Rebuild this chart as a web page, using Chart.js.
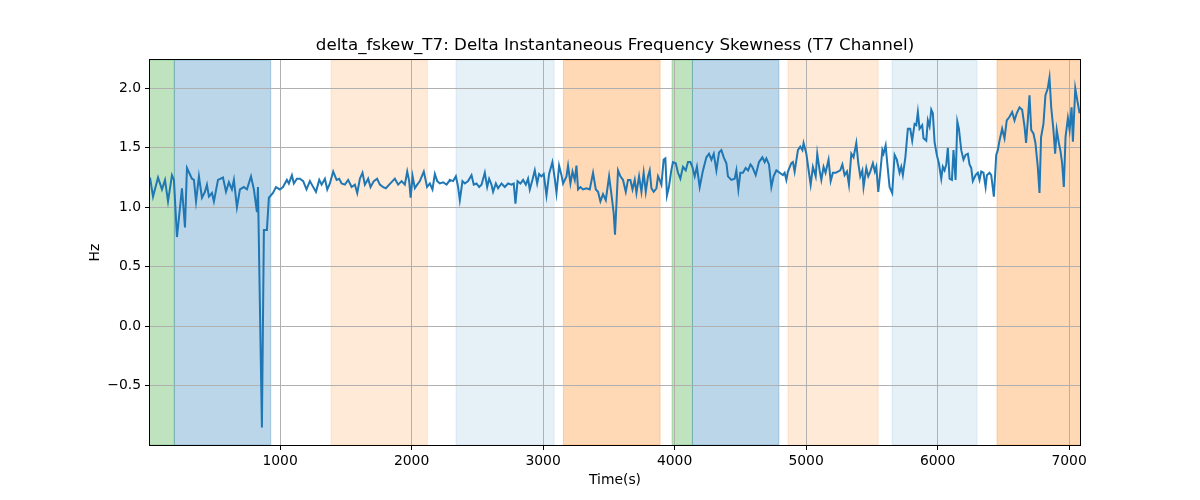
<!DOCTYPE html>
<html>
<head>
<meta charset="utf-8">
<script src="https://cdn.jsdelivr.net/npm/chart.js@4.4.1/dist/chart.umd.min.js"></script>
<style>
  html, body { margin: 0; padding: 0; background: #fff; }
</style>
</head>
<body>
<canvas id="myChart" width="1200" height="500"></canvas>
<script>
// time (s) of each sample
var times = [
  11,34,72,102,125,148,178,193,216,254,277,292,330,345,361,383,406,429,444,459,
  482,497,528,566,589,611,634,649,672,695,725,748,779,801,824,832,862,877,900,915,
  946,969,999,1022,1052,1067,1090,1105,1128,1151,
  1176,1201,1227,1247,1273,1298,1316,1341,1359,1379,1404,1430,1450,1468,1493,1518,1544,1569,1587,1607,
  1627,1645,1670,1688,1713,1738,1759,1784,1805,1830,1855,1873,1898,1924,1949,1967,1982,1993,2008,2025,
  2043,2063,2093,2118,2139,2159,2177,2195,2215,2240,2266,2286,
  2291,2316,2337,2354,2367,2387,2405,2430,2456,2473,2494,2514,2532,2557,2575,2590,2608,2620,2641,2658,
  2684,2709,2734,2760,2777,2790,2806,2828,2848,2869,2886,2899,2919,2937,2955,2970,2988,3005,3026,3046,
  3071,3089,3102,3122,3140,3152,3178,3190,3208,3224,3241,3254,3266,3284,3304,3330,3355,3380,3401,3418,
  3436,3456,3477,3502,
  3522,3537,3547,3570,3588,3608,3629,3646,3664,3680,3697,3710,3730,3748,3765,3781,3798,3811,3824,3841,
  3862,3874,3887,3900,3917,3930,3942,3957,3975,3988,4009,4026,4044,4064,4085,4102,4120,4135,4153,4170,
  4191,4216,4242,4262,4280,4298,4318,4338,4356,4374,4394,4406,4432,4457,4470,4485,4500,4520,4541,4559,
  4577,
  4591,4617,4642,4668,4685,4698,4718,4736,4753,4774,4799,4824,4837,4850,4862,4888,4900,4913,4938,4956,
  4972,4981,5002,5017,5035,5052,5073,5085,5103,5116,5133,5148,5171,5187,5204,5225,5242,5260,5276,5293,
  5311,5326,5344,5361,5382,5397,5412,5428,5437,5458,5473,5488,5508,5523,5534,5549,5564,5580,5589,5605,
  5620,5635,5655,5673,5690,5711,5724,5736,5755,
  5774,5792,5807,5825,5838,5850,5863,5883,5893,5914,5926,5939,5952,5964,5977,5994,6010,6028,6040,6053,
  6066,6078,6091,6109,6121,6137,6150,6162,6180,6197,6213,6230,6243,6256,6268,6289,6306,6319,6332,6349,
  6365,6375,6395,6408,6428,6446,6458,6471,6491,6509,6526,6547,6567,6585,6602,6623,6643,6661,6673,6686,
  6699,6712,6729,6744,6762,6775,6787,6805,6820,6838,6851,6864,6881,6894,6906,6922,6935,6947,6960,6973,
  6991,7004,7019,7029,7047,7062,7080
];
// delta frequency skewness (Hz)
var skewValues = [
  1.25,1.09,1.25,1.15,1.23,1.05,1.27,1.23,0.75,1.16,0.83,1.33,1.24,1.23,1.05,1.26,1.08,1.13,1.19,1.09,
  1.12,1.05,1.23,1.25,1.13,1.21,1.15,1.23,1.00,1.15,1.17,1.15,1.26,1.15,0.96,1.17,-0.85,0.81,0.81,1.08,
  1.12,1.17,1.15,1.17,1.23,1.20,1.27,1.20,1.24,1.24,
  1.22,1.15,1.22,1.18,1.13,1.23,1.19,1.24,1.15,1.20,1.30,1.23,1.24,1.20,1.19,1.23,1.17,1.19,1.12,1.24,
  1.29,1.19,1.24,1.17,1.22,1.24,1.19,1.17,1.16,1.19,1.22,1.24,1.19,1.22,1.19,1.30,1.22,1.08,1.26,1.16,
  1.19,1.22,1.30,1.17,1.20,1.15,1.28,1.22,1.20,1.21,1.19,1.22,
  1.23,1.22,1.26,1.17,1.06,1.22,1.20,1.22,1.27,1.19,1.20,1.17,1.19,1.29,1.17,1.24,1.19,1.13,1.20,1.16,
  1.20,1.17,1.20,1.19,1.20,1.03,1.22,1.20,1.23,1.19,1.24,1.15,1.23,1.31,1.20,1.28,1.26,1.28,1.10,1.28,
  1.38,1.24,1.12,1.35,1.27,1.20,1.26,1.35,1.20,1.30,1.23,1.35,1.15,1.17,1.15,1.16,1.15,1.29,1.15,1.13,
  1.05,1.11,1.06,1.26,
  1.09,0.95,0.77,1.31,1.26,1.23,1.13,1.23,1.23,1.15,1.23,1.12,1.26,1.13,1.29,1.13,1.26,1.31,1.16,1.13,
  1.16,1.26,1.23,1.19,1.40,1.41,1.10,1.17,1.31,1.38,1.37,1.29,1.24,1.34,1.31,1.38,1.38,1.34,1.26,1.34,
  1.17,1.31,1.42,1.45,1.40,1.45,1.31,1.46,1.48,1.42,1.37,1.26,1.23,1.24,1.31,1.15,1.29,1.29,1.33,1.31,
  1.36,
  1.34,1.27,1.38,1.42,1.38,1.41,1.36,1.17,1.26,1.31,1.29,1.27,1.29,1.23,1.30,1.37,1.38,1.30,1.48,1.51,
  1.48,1.54,1.45,1.33,1.19,1.34,1.26,1.45,1.31,1.23,1.34,1.29,1.40,1.22,1.29,1.29,1.30,1.31,1.36,1.27,
  1.30,1.19,1.45,1.42,1.54,1.37,1.26,1.31,1.17,1.33,1.26,1.30,1.37,1.30,1.34,1.13,1.29,1.48,1.45,1.52,
  1.34,1.17,1.12,1.44,1.40,1.29,1.34,1.27,1.42,
  1.66,1.66,1.56,1.70,1.69,1.80,1.66,1.69,1.58,1.56,1.73,1.68,1.82,1.79,1.55,1.44,1.37,1.24,1.34,1.31,
  1.36,1.50,1.24,1.23,1.48,1.23,1.72,1.66,1.48,1.40,1.44,1.45,1.36,1.33,1.22,1.27,1.29,1.23,1.30,1.29,
  1.17,1.27,1.29,1.27,1.09,1.44,1.48,1.56,1.66,1.58,1.73,1.76,1.80,1.73,1.79,1.84,1.82,1.68,1.54,1.73,
  1.94,1.65,1.62,1.54,1.34,1.12,1.59,1.70,1.94,2.00,2.09,1.84,1.65,1.45,1.65,1.54,1.47,1.37,1.17,1.59,
  1.75,1.65,1.84,1.55,2.00,1.90,1.79
];

// shaded stage bands
var spanStart = [0, 196, 1388, 2338, 3155, 3981, 4136, 4863, 5654, 6452];
var spanEnd   = [196, 929, 2120, 3084, 3890, 4136, 4793, 5548, 6300, 7100];
var spanColor = [
  "rgba(44,160,44,0.3)", "rgba(31,119,180,0.3)", "rgba(255,127,14,0.16)", "rgba(31,119,180,0.11)",
  "rgba(255,127,14,0.3)", "rgba(44,160,44,0.3)", "rgba(31,119,180,0.3)", "rgba(255,127,14,0.16)",
  "rgba(31,119,180,0.11)", "rgba(255,127,14,0.3)"
];

var xTicks = [1000, 2000, 3000, 4000, 5000, 6000, 7000];
var yTicks = [-0.5, 0, 0.5, 1.0, 1.5, 2.0];

var points = times.map(function (t, i) { return { x: t, y: skewValues[i] }; });

var spansPlugin = {
  id: "spans",
  beforeDraw: function (chart) {
    var ctx = chart.ctx, area = chart.chartArea, xs = chart.scales.x;
    ctx.save();
    ctx.beginPath();
    ctx.rect(area.left, area.top, area.right - area.left, area.bottom - area.top);
    ctx.clip();
    for (var i = 0; i < spanStart.length; i++) {
      var x0 = xs.getPixelForValue(spanStart[i]);
      var x1 = xs.getPixelForValue(spanEnd[i]);
      ctx.fillStyle = spanColor[i];
      ctx.fillRect(x0, area.top, x1 - x0, area.bottom - area.top);
      ctx.strokeStyle = spanColor[i];
      ctx.lineWidth = 1;
      ctx.strokeRect(x0, area.top, x1 - x0, area.bottom - area.top);
    }
    ctx.restore();
  },
  afterDraw: function (chart) {
    var ctx = chart.ctx, area = chart.chartArea;
    ctx.save();
    ctx.strokeStyle = "#000";
    ctx.lineWidth = 1;
    ctx.strokeRect(Math.round(area.left) - 0.5, Math.round(area.top) - 0.5,
      Math.round(area.right - area.left) + 1, Math.round(area.bottom - area.top) + 1);
    ctx.restore();
  }
};

var tickFont = { family: "DejaVu Sans", size: 13.9 };

new Chart("myChart", {
  type: "line",
  data: {
    datasets: [{
      data: points,
      borderColor: "#1f77b4",
      borderWidth: 2,
      pointRadius: 0,
      tension: 0,
      fill: false
    }]
  },
  options: {
    responsive: false,
    animation: false,
    devicePixelRatio: 1,
    layout: { padding: { left: 0, right: 120, top: 0, bottom: 0 } },
    plugins: {
      legend: { display: false },
      tooltip: { enabled: false },
      title: {
        display: true,
        fullSize: false,
        text: "delta_fskew_T7: Delta Instantaneous Frequency Skewness (T7 Channel)",
        color: "#000",
        font: { family: "DejaVu Sans", size: 16.7, weight: "normal" },
        padding: { top: 36, bottom: 4 }
      }
    },
    scales: {
      x: {
        type: "linear",
        min: 11,
        max: 7083,
        afterBuildTicks: function (scale) {
          scale.ticks = xTicks.map(function (v) { return { value: v }; });
        },
        afterFit: function (scale) { scale.height = 55; },
        ticks: {
          color: "#000",
          font: tickFont,
          padding: 3,
          maxRotation: 0,
          autoSkip: false,
          callback: function (v) { return String(v); }
        },
        grid: { color: "#b0b0b0", lineWidth: 1, tickColor: "#000", tickLength: 5 },
        border: { display: false },
        title: {
          display: true,
          text: "Time(s)",
          color: "#000",
          font: { family: "DejaVu Sans", size: 13.9 },
          padding: { top: 0, bottom: 11 }
        }
      },
      y: {
        type: "linear",
        min: -0.997,
        max: 2.237,
        afterBuildTicks: function (scale) {
          scale.ticks = yTicks.map(function (v) { return { value: v }; });
        },
        afterFit: function (scale) { scale.width = 150; },
        ticks: {
          color: "#000",
          font: tickFont,
          padding: 4,
          autoSkip: false,
          callback: function (v) { return v.toFixed(1).replace("-", "\u2212"); }
        },
        grid: { color: "#b0b0b0", lineWidth: 1, tickColor: "#000", tickLength: 5 },
        border: { display: false },
        title: {
          display: true,
          text: "Hz",
          color: "#000",
          font: { family: "DejaVu Sans", size: 13.9 },
          padding: { top: 87, bottom: 0 }
        }
      }
    }
  },
  plugins: [spansPlugin]
});
</script>
</body>
</html>
